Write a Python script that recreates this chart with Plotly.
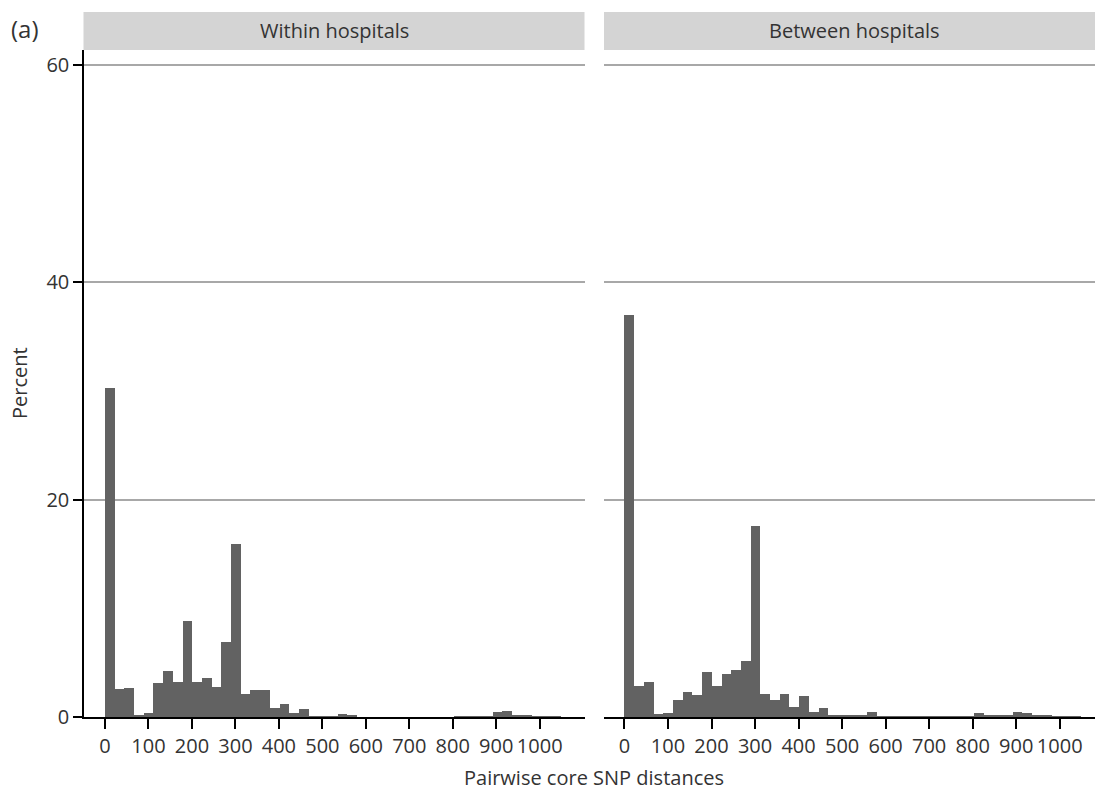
import plotly.graph_objects as go

# ---- data ----
bin_width = 22.3
bin_lower = [0, 22.3, 44.6, 66.9, 89.2, 111.5, 133.8, 156.1, 178.4, 200.7,
             223.0, 245.3, 267.6, 289.9, 312.2, 334.5, 356.8, 379.1, 401.4, 423.7,
             446.0, 468.3, 490.6, 512.9, 535.2, 557.5, 579.8, 602.1, 624.4, 646.7,
             669.0, 691.3, 713.6, 735.9, 758.2, 780.5, 802.8, 825.1, 847.4, 869.7,
             892.0, 914.3, 936.6, 958.9, 981.2, 1003.5, 1025.8]

within_pct = [30.3, 2.55, 2.70, 0.22, 0.34, 3.13, 4.24, 3.26, 8.85, 3.20,
              3.60, 2.76, 6.94, 15.9, 2.09, 2.46, 2.52, 0.86, 1.23, 0.34,
              0.71, 0.02, 0.06, 0.03, 0.30, 0.15, 0.0, 0.0, 0.0, 0.0,
              0.0, 0.0, 0.0, 0.0, 0.0, 0.0, 0.01, 0.05, 0.05, 0.05,
              0.43, 0.58, 0.12, 0.12, 0.06, 0.06, 0.06]

between_pct = [37.0, 2.89, 3.20, 0.25, 0.37, 1.54, 2.30, 2.00, 4.18, 2.83,
               3.96, 4.33, 5.16, 17.6, 2.09, 1.57, 2.09, 0.89, 1.97, 0.46,
               0.80, 0.22, 0.12, 0.12, 0.12, 0.49, 0.05, 0.05, 0.05, 0.05,
               0.05, 0.02, 0.02, 0.02, 0.02, 0.02, 0.40, 0.12, 0.12, 0.20,
               0.43, 0.40, 0.12, 0.12, 0.05, 0.05, 0.05]

panel_titles = ["Within hospitals", "Between hospitals"]
x_ticks = [0, 100, 200, 300, 400, 500, 600, 700, 800, 900, 1000]
y_ticks = [0, 20, 40, 60]

# ---- figure ----
W, H = 1095, 790
FONT = "Open Sans"
TXT = "#333333"
BAR = "#626262"
FS = 20

centers = [b + bin_width / 2 for b in bin_lower]

fig = go.Figure()
fig.add_trace(go.Bar(x=centers, y=within_pct, width=bin_width,
                     marker=dict(color=BAR, line=dict(width=0)),
                     xaxis="x", yaxis="y", showlegend=False, hoverinfo="x+y"))
fig.add_trace(go.Bar(x=centers, y=between_pct, width=bin_width,
                     marker=dict(color=BAR, line=dict(width=0)),
                     xaxis="x2", yaxis="y2", showlegend=False, hoverinfo="x+y"))

def px_x(p):
    return p / W

def px_y(p):
    return 1 - p / H

ydom = [px_y(717), px_y(50)]
xdom1 = [px_x(84), px_x(584.5)]
xdom2 = [px_x(604), 1.0]

common_x = dict(tickvals=x_ticks, ticks="outside", ticklen=10, tickwidth=1.5,
                tickcolor="black", showline=True, linecolor="black", linewidth=1.5,
                showgrid=False, zeroline=False,
                tickfont=dict(family=FONT, size=FS, color=TXT))

fig.update_layout(
    width=W, height=H,
    margin=dict(l=0, r=0, t=0, b=0, autoexpand=False),
    plot_bgcolor="white", paper_bgcolor="white",
    bargap=0,
    font=dict(family=FONT, color=TXT),
    xaxis=dict(domain=xdom1, range=[-48.3, 1103], anchor="y", **common_x),
    xaxis2=dict(domain=xdom2, range=[-47.0, 1081], anchor="y2", **common_x),
    yaxis=dict(domain=ydom, range=[0, 61.4], anchor="x", tickvals=y_ticks,
               ticks="outside", ticklen=9, tickwidth=1.5, tickcolor="black",
               showline=True, linecolor="black", linewidth=1.5,
               showgrid=True, gridcolor="#a8a8a8", gridwidth=2, zeroline=False,
               tickfont=dict(family=FONT, size=FS, color=TXT)),
    yaxis2=dict(domain=ydom, range=[0, 61.4], anchor="x2", tickvals=y_ticks,
                showticklabels=False, ticks="", showline=False,
                showgrid=True, gridcolor="#a8a8a8", gridwidth=2, zeroline=False),
)

# strip headers
strip_y = [px_y(50), px_y(12)]
fig.add_shape(type="rect", xref="paper", yref="paper", x0=px_x(83.5), x1=px_x(584.5),
              y0=strip_y[0], y1=strip_y[1], fillcolor="#d4d4d4", line=dict(width=0),
              layer="below")
fig.add_shape(type="rect", xref="paper", yref="paper", x0=px_x(604), x1=1.0,
              y0=strip_y[0], y1=strip_y[1], fillcolor="#d4d4d4", line=dict(width=0),
              layer="below")

anns = [
    dict(text=panel_titles[0], x=px_x(334), y=px_y(31)),
    dict(text=panel_titles[1], x=px_x(854), y=px_y(31)),
    dict(text="(a)", x=px_x(25), y=px_y(29), size=24),
    dict(text="Pairwise core SNP distances", x=px_x(594), y=px_y(777)),
    dict(text="Percent", x=px_x(20), y=px_y(383), angle=-90),
]
for a in anns:
    fig.add_annotation(text=a["text"], x=a["x"], y=a["y"], xref="paper", yref="paper",
                       xanchor="center", yanchor="middle", showarrow=False,
                       textangle=a.get("angle", 0),
                       font=dict(family=FONT, size=a.get("size", FS), color=TXT))

fig.write_html("out.html")
